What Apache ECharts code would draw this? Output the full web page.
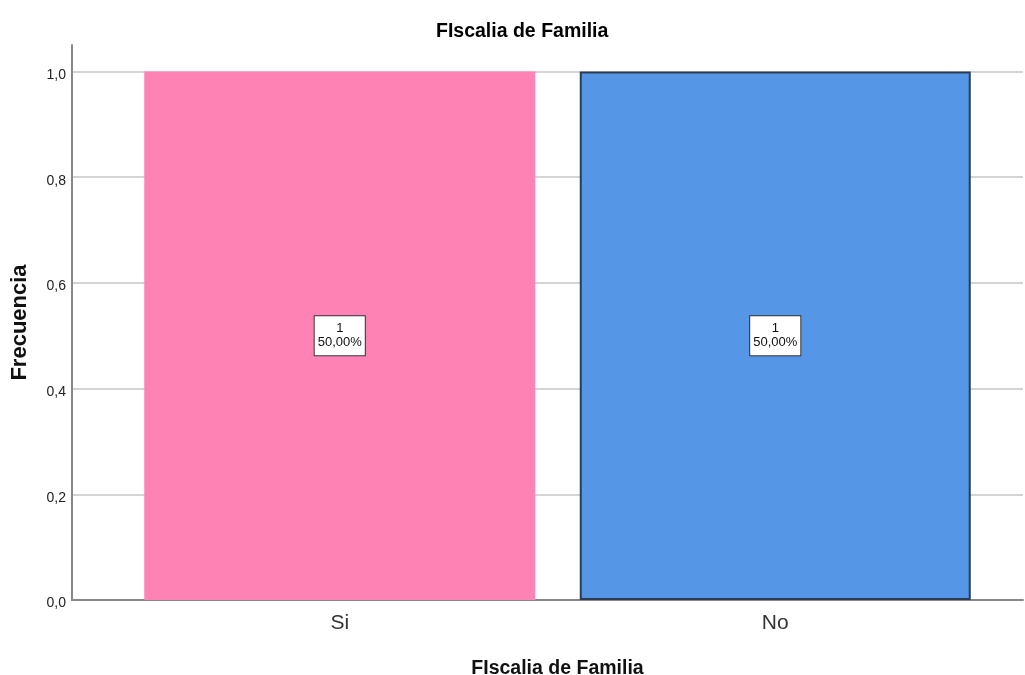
<!DOCTYPE html>
<html>
<head>
<meta charset="utf-8">
<script src="https://cdn.jsdelivr.net/npm/echarts@6/dist/echarts.min.js"></script>
<style>
  html, body { margin: 0; padding: 0; background: #fff; }
  #chart { width: 1025px; height: 675px; }
</style>
</head>
<body>
<div id="chart"></div>
<script>
var categories = ['Si', 'No'];
var frecuencia = [1, 1];
var porcentaje = ['50,00%', '50,00%'];
var barColors = ['#ff82b4', '#5596e6'];
var barBorders = ['#ff82b4', '#2b3d52'];

window.onload = function () {
  var chart = echarts.init(document.getElementById('chart'));
  var font = 'Liberation Sans, Arial, sans-serif';

  var barData = frecuencia.map(function (v, i) {
    return {
      value: v,
      itemStyle: {
        color: barColors[i],
        borderColor: barBorders[i],
        borderWidth: i === 1 ? 2 : 0
      }
    };
  });

  var option = {
    animation: false,
    textStyle: { fontFamily: font },
    title: {
      text: 'FIscalia de Familia',
      left: 431,
      top: 17,
      textStyle: { fontSize: 19.5, fontWeight: 'bold', color: '#000', fontFamily: font }
    },
    grid: [
      // full frame: axis lines + gridlines
      { left: 72, right: 2, top: 45, bottom: 75, outerBoundsMode: 'none', containLabel: false },
      // inner band for the bars
      { left: 122, right: 32, top: 45, bottom: 75, outerBoundsMode: 'none', containLabel: false }
    ],
    xAxis: [
      {
        type: 'category',
        gridIndex: 0,
        data: categories,
        axisLine: { lineStyle: { color: '#888', width: 2 } },
        axisTick: { show: false },
        axisLabel: { show: false }
      },
      {
        type: 'category',
        gridIndex: 1,
        data: categories,
        axisLine: { show: false },
        axisTick: { show: false },
        axisLabel: { fontSize: 21, color: '#333', margin: 13, fontFamily: font },
        name: 'FIscalia de Familia',
        nameLocation: 'middle',
        nameGap: 59,
        nameTextStyle: { fontSize: 19.5, fontWeight: 'bold', color: '#111', fontFamily: font }
      }
    ],
    yAxis: [
      {
        type: 'value',
        gridIndex: 0,
        min: 0,
        max: 1.05,
        interval: 0.2,
        axisLine: { show: true, lineStyle: { color: '#888', width: 2 } },
        axisTick: { show: false },
        axisLabel: {
          showMaxLabel: false,
          margin: 6,
          fontFamily: font,
          formatter: function (v) { return '{t|' + v.toFixed(1).replace('.', ',') + '}'; },
          rich: {
            t: { fontSize: 14, color: '#222', padding: [7, 0, 0, 0], fontFamily: font }
          }
        },
        splitLine: { show: true, showMaxLine: false, showMinLine: false, lineStyle: { color: '#d4d4d4', width: 2 } },
        name: 'Frecuencia',
        nameLocation: 'middle',
        nameGap: 41,
        nameTextStyle: { fontSize: 22, fontWeight: 'bold', color: '#111', fontFamily: font }
      },
      {
        type: 'value',
        gridIndex: 1,
        min: 0,
        max: 1.05,
        interval: 0.2,
        show: false
      }
    ],
    series: [
      {
        type: 'bar',
        xAxisIndex: 1,
        yAxisIndex: 1,
        barWidth: 391,
        data: barData,
        label: {
          show: true,
          position: 'inside',
          formatter: function (p) {
            return p.value + '\n' + porcentaje[p.dataIndex];
          },
          fontSize: 13,
          lineHeight: 14,
          color: '#111',
          backgroundColor: '#fff',
          borderColor: '#333',
          borderWidth: 1,
          padding: [6, 3, 5, 3],
          fontFamily: font
        }
      }
    ]
  };

  chart.setOption(option);
};
</script>
</body>
</html>
